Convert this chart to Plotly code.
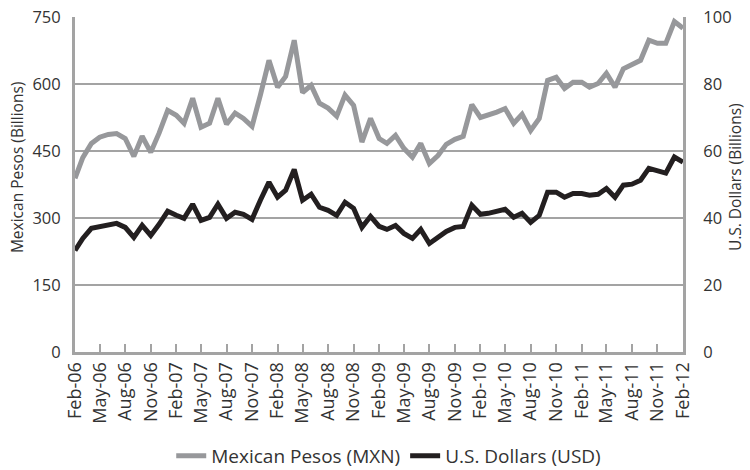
import pandas as pd
import plotly.graph_objects as go

months = pd.date_range("2006-02-01", "2012-02-01", freq="MS")

mxn = [389, 435, 467, 481, 487, 489, 478, 438, 483, 447, 490, 541, 530, 512, 568, 503,
       512, 568, 510, 535, 523, 505, 575, 653, 593, 617, 698, 581, 597, 557, 546, 528,
       575, 552, 470, 523, 478, 467, 485, 456, 436, 467, 422, 440, 465, 476, 483, 554,
       525, 530, 537, 545, 512, 532, 496, 523, 608, 615, 590, 604, 604, 593, 601, 624,
       593, 634, 642, 653, 698, 691, 691, 740, 725]

usd = [30.3, 33.9, 36.9, 37.5, 38.1, 38.4, 37.2, 34.2, 37.8, 34.8, 38.1, 42.0, 40.8, 39.9,
       44.1, 39.3, 40.2, 44.1, 39.9, 41.7, 41.1, 39.6, 45.3, 50.7, 46.2, 48.3, 54.5, 45.3,
       47.1, 43.2, 42.3, 40.8, 44.7, 42.9, 37.2, 40.5, 37.5, 36.6, 37.8, 35.4, 33.9, 36.6,
       32.4, 34.2, 36.0, 37.2, 37.5, 43.8, 41.1, 41.4, 42.0, 42.6, 40.2, 41.4, 38.7, 40.8,
       47.7, 47.7, 46.2, 47.3, 47.3, 46.8, 47.1, 48.8, 46.2, 49.8, 50.1, 51.3, 54.8, 54.2,
       53.4, 58.2, 56.7]

tick_labels = ["Feb-06", "May-06", "Aug-06", "Nov-06", "Feb-07", "May-07", "Aug-07", "Nov-07",
               "Feb-08", "May-08", "Aug-08", "Nov-08", "Feb-09", "May-09", "Aug-09", "Nov-09",
               "Feb-10", "May-10", "Aug-10", "Nov-10", "Feb-11", "May-11", "Aug-11", "Nov-11",
               "Feb-12"]
tick_vals = list(months[::3])

left_title = "Mexican Pesos (Billions)"
right_title = "U.S. Dollars (Billions)"

FONT = "Open Sans"
TXT = "#333333"
GRID = "#a3a3a3"

fig = go.Figure()
fig.add_trace(go.Scatter(x=months, y=mxn, mode="lines", name="Mexican Pesos (MXN)",
                         line=dict(color="#97989b", width=5), yaxis="y"))
fig.add_trace(go.Scatter(x=months, y=usd, mode="lines", name="U.S. Dollars (USD)",
                         line=dict(color="#231f20", width=5), yaxis="y2"))

fig.update_layout(
    width=750, height=470,
    margin=dict(l=75, r=67, t=17, b=118, autoexpand=False),
    paper_bgcolor="white", plot_bgcolor="white",
    font=dict(family=FONT, size=16, color=TXT),
    showlegend=True,
    legend=dict(orientation="h", x=0.516, xanchor="center", y=-0.31, yanchor="middle",
                font=dict(size=19, color=TXT), itemwidth=30, tracegroupgap=0),
    xaxis=dict(range=[months[0], months[-1]], tickvals=tick_vals, ticktext=tick_labels,
               tickangle=-90, ticks="inside", ticklen=8, tickwidth=2, tickcolor=GRID,
               showline=True, linecolor=GRID, linewidth=3, showgrid=False, automargin=False,
               tickfont=dict(size=18, color=TXT), zeroline=False),
    yaxis=dict(range=[0, 750], dtick=150, showgrid=True, gridcolor=GRID, gridwidth=2,
               showline=True, linecolor=GRID, linewidth=3, zeroline=False, automargin=False,
               tickfont=dict(size=16.5, color=TXT), ticklabelstandoff=8),
    yaxis2=dict(range=[0, 100], dtick=20, overlaying="y", side="right", showgrid=False,
                showline=True, linecolor=GRID, linewidth=3, zeroline=False, automargin=False,
                tickfont=dict(size=16.5, color=TXT), ticklabelstandoff=14),
    annotations=[
        dict(text=left_title, textangle=-90, xref="paper", yref="paper",
             x=-0.0954, y=0.552, xanchor="center", yanchor="middle", showarrow=False,
             font=dict(size=15.5, color=TXT)),
        dict(text=right_title, textangle=-90, xref="paper", yref="paper",
             x=1.0855, y=0.522, xanchor="center", yanchor="middle", showarrow=False,
             font=dict(size=15.5, color=TXT)),
    ],
)

fig.write_html("out.html", config={"displayModeBar": False},
               post_script="document.body.style.margin='0';document.body.style.overflow='hidden';")
